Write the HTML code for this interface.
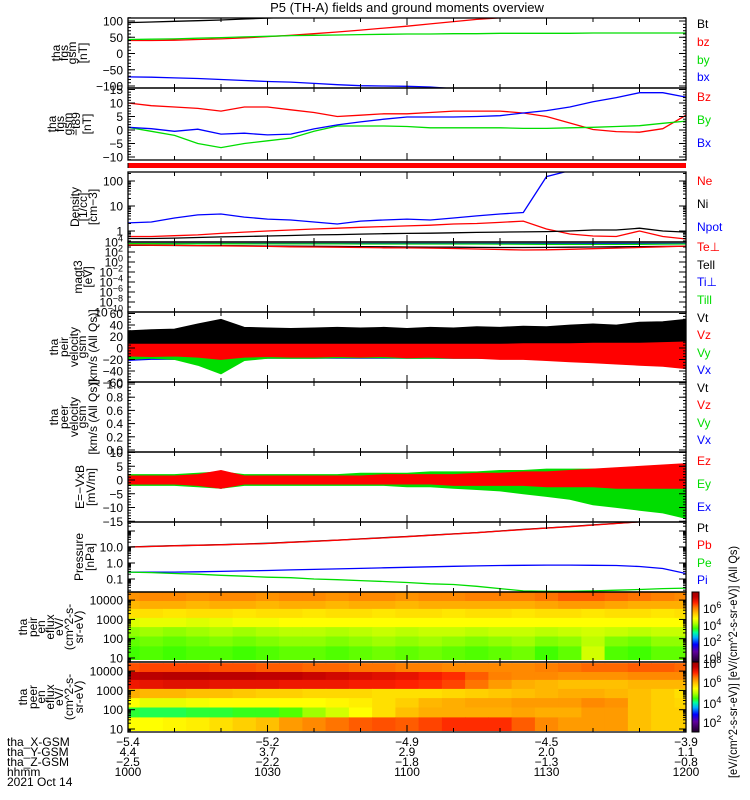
<!DOCTYPE html>
<html><head><meta charset="utf-8"><style>
html,body{margin:0;padding:0;background:#fff;}
svg{display:block;font-family:"Liberation Sans",sans-serif;}
text{font-size:12px;}
.lg{font-size:12px;}
.yl{font-size:11px;}
</style></head><body>
<svg id="chart" width="750" height="800" viewBox="0 0 750 800" xmlns="http://www.w3.org/2000/svg">
<rect x="0" y="0" width="750" height="800" fill="#fff"/>
<text x="407" y="12" text-anchor="middle" style="font-size:13px">P5 (TH-A) fields and ground moments overview</text>
<g id="plots"></g>
<g id="axes"></g>

<g class="yl">
<text transform="translate(60,53) rotate(-90)" text-anchor="middle">tha</text>
<text transform="translate(68,53) rotate(-90)" text-anchor="middle">fgs</text>
<text transform="translate(76,53) rotate(-90)" text-anchor="middle">gsm</text>
<text transform="translate(87,53) rotate(-90)" text-anchor="middle">[nT]</text>
<text transform="translate(56,124) rotate(-90)" text-anchor="middle">tha</text>
<text transform="translate(64,124) rotate(-90)" text-anchor="middle">fgs</text>
<text transform="translate(72,124) rotate(-90)" text-anchor="middle">gsm</text>
<text transform="translate(80,124) rotate(-90)" text-anchor="middle">−t89</text>
<text transform="translate(91,124) rotate(-90)" text-anchor="middle">[nT]</text>
<text transform="translate(79,207) rotate(-90)" text-anchor="middle">Density</text>
<text transform="translate(87,207) rotate(-90)" text-anchor="middle">[1/cc]</text>
<text transform="translate(97,207) rotate(-90)" text-anchor="middle">[cm−3]</text>
<text transform="translate(82,277) rotate(-90)" text-anchor="middle">magt3</text>
<text transform="translate(92,277) rotate(-90)" text-anchor="middle">[eV]</text>
<text transform="translate(58,347) rotate(-90)" text-anchor="middle">tha</text>
<text transform="translate(68,347) rotate(-90)" text-anchor="middle">peir</text>
<text transform="translate(78,347) rotate(-90)" text-anchor="middle">velocity</text>
<text transform="translate(86,347) rotate(-90)" text-anchor="middle">gsm</text>
<text transform="translate(97,347) rotate(-90)" text-anchor="middle">[km/s (All Qs)]</text>
<text transform="translate(58,417) rotate(-90)" text-anchor="middle">tha</text>
<text transform="translate(68,417) rotate(-90)" text-anchor="middle">peer</text>
<text transform="translate(78,417) rotate(-90)" text-anchor="middle">velocity</text>
<text transform="translate(86,417) rotate(-90)" text-anchor="middle">gsm</text>
<text transform="translate(97,417) rotate(-90)" text-anchor="middle">[km/s (All Qs)]</text>
<text transform="translate(84,487) rotate(-90)" text-anchor="middle">E=−VxB</text>
<text transform="translate(95,487) rotate(-90)" text-anchor="middle">[mV/m]</text>
<text transform="translate(83,557) rotate(-90)" text-anchor="middle">Pressure</text>
<text transform="translate(94,557) rotate(-90)" text-anchor="middle">[nPa]</text>
<text transform="translate(27,627) rotate(-90)" text-anchor="middle">tha</text>
<text transform="translate(37,627) rotate(-90)" text-anchor="middle">peir</text>
<text transform="translate(45,627) rotate(-90)" text-anchor="middle">en</text>
<text transform="translate(54,627) rotate(-90)" text-anchor="middle">eflux</text>
<text transform="translate(63,627) rotate(-90)" text-anchor="middle">eV/</text>
<text transform="translate(73,627) rotate(-90)" text-anchor="middle">(cm^2-s-</text>
<text transform="translate(83,627) rotate(-90)" text-anchor="middle">sr-eV)</text>
<text transform="translate(27,697) rotate(-90)" text-anchor="middle">tha</text>
<text transform="translate(37,697) rotate(-90)" text-anchor="middle">peer</text>
<text transform="translate(45,697) rotate(-90)" text-anchor="middle">en</text>
<text transform="translate(54,697) rotate(-90)" text-anchor="middle">eflux</text>
<text transform="translate(63,697) rotate(-90)" text-anchor="middle">eV/</text>
<text transform="translate(73,697) rotate(-90)" text-anchor="middle">(cm^2-s-</text>
<text transform="translate(83,697) rotate(-90)" text-anchor="middle">sr-eV)</text>
</g>

<g class="lg">
<text x="697" y="28" fill="#000">Bt</text>
<text x="697" y="46" fill="#f00">bz</text>
<text x="697" y="64" fill="#0d0">by</text>
<text x="697" y="81" fill="#00f">bx</text>
<text x="697" y="101" fill="#f00">Bz</text>
<text x="697" y="124" fill="#0d0">By</text>
<text x="697" y="147" fill="#00f">Bx</text>
<text x="697" y="185" fill="#f00">Ne</text>
<text x="697" y="208" fill="#000">Ni</text>
<text x="697" y="231" fill="#00f">Npot</text>
<text x="697" y="251" fill="#f00">Te⊥</text>
<text x="697" y="269" fill="#000">Tell</text>
<text x="697" y="286" fill="#00f">Ti⊥</text>
<text x="697" y="304" fill="#0d0">Till</text>
<text x="697" y="322" fill="#000">Vt</text>
<text x="697" y="339" fill="#f00">Vz</text>
<text x="697" y="357" fill="#0d0">Vy</text>
<text x="697" y="374" fill="#00f">Vx</text>
<text x="697" y="392" fill="#000">Vt</text>
<text x="697" y="409" fill="#f00">Vz</text>
<text x="697" y="427" fill="#0d0">Vy</text>
<text x="697" y="444" fill="#00f">Vx</text>
<text x="697" y="465" fill="#f00">Ez</text>
<text x="697" y="488" fill="#0d0">Ey</text>
<text x="697" y="511" fill="#00f">Ex</text>
<text x="697" y="532" fill="#000">Pt</text>
<text x="697" y="549" fill="#f00">Pb</text>
<text x="697" y="567" fill="#0d0">Pe</text>
<text x="697" y="584" fill="#00f">Pi</text>
<text transform="translate(737,662) rotate(-90)" text-anchor="middle" textLength="232" lengthAdjust="spacingAndGlyphs">[eV/(cm^2-s-sr-eV)]  [eV/(cm^2-s-sr-eV)]  (All Qs)</text>
</g>

<g>
<text x="7" y="746">tha_X-GSM</text>
<text x="7" y="756">tha_Y-GSM</text>
<text x="7" y="766">tha_Z-GSM</text>
<text x="7" y="776">hhmm</text>
<text x="7" y="786">2021 Oct 14</text>
<g id="xvals"></g>
</g>
</svg>
<script>
var times = [0,5,10,15,20,25,30,35,40,45,50,55,60,65,70,75,80,85,90,95,100,105,110,115,120];
var xTickMinutes = [0,30,60,90,120];
var xLabelX = ['-5.4','-5.2','-4.9','-4.5','-3.9'];
var xLabelY = ['4.4','3.7','2.9','2.0','1.1'];
var xLabelZ = ['-2.5','-2.2','-1.8','-1.3','-0.8'];
var xLabelHhmm = ['1000','1030','1100','1130','1200'];

var fgsBt = [95,97,99,101,103,106,109,112,115,118,121,124,127,130,133,136,139,142,145,148,151,154,157,160,163];
var fgsBz = [40,40,41,43,45,48,52,56,61,66,72,78,84,91,98,105,110,115,120,125,130,135,140,145,150];
var fgsBy = [43,44,45,47,49,51,53,55,56,57,58,59,60,60,61,61,62,62,62,62,63,63,63,63,63];
var fgsBx = [-72,-73,-75,-77,-80,-83,-86,-88,-92,-96,-99,-100,-101,-103,-108,-112,-115,-118,-120,-122,-124,-126,-128,-130,-132];

var t89Bz = [10,9,8.5,8,7,8.5,8.5,7.5,6.5,5,5.5,6,6,6.5,7,7,7,6.3,5,2.6,0.2,-0.6,-0.8,0.5,5.5];
var t89By = [1,-0.5,-2,-5,-6.5,-5,-4,-3,-0.5,1.5,1.5,1.5,1.3,0.8,0.8,0.8,0.8,0.6,0.6,0.8,1,1.3,1.6,2.5,3.3];
var t89Bx = [1,0.5,-0.5,0.3,-1.5,-1.2,-1.8,-1.5,0.4,1.9,3,4,4.8,4.8,4.8,5,5.3,6.3,7.2,8.5,10.5,12,13.8,13.8,12.2];

var denNpot = [2.1,2.3,3.3,4.4,4.8,3.6,3.0,2.75,2.3,1.9,2.5,2.75,3.0,2.75,3.3,4.0,4.8,5.5,150,260,null,null,null,null,null];
var denNe = [0.6,0.6,0.65,0.7,0.8,0.9,1.0,1.1,1.2,1.3,1.4,1.5,1.6,1.7,1.9,2.0,2.2,2.5,1.2,0.76,0.63,0.6,1.0,0.6,0.48];
var denNi = [0.5,0.5,0.52,0.55,0.58,0.6,0.63,0.66,0.7,0.72,0.75,0.78,0.8,0.82,0.85,0.88,0.9,0.92,0.95,1.0,1.1,1.1,1.3,1.0,0.9];

var tempTePerp = [2500,2300,2100,1900,1700,1500,1300,1100,1000,900,800,700,650,600,500,400,320,250,280,350,450,600,800,1100,1500];
var tempTePar = [2200,2100,2000,1900,1800,1700,1600,1500,1400,1300,1200,1100,1000,950,900,850,800,800,850,900,1000,1100,1200,1300,1400];
var tempTiPerp = [5000,5000,5000,5000,5000,5000,5000,5000,5000,5000,5000,5000,5000,5000,5000,5000,5000,5000,5000,5000,5000,5000,5000,5000,5000];
var tempTiPar = [4500,4500,4400,4400,4300,4300,4200,4200,4100,4100,4000,4000,4000,4000,4000,4000,3800,3600,3500,3400,3300,3300,3500,3800,4000];

var vtLo = [8,8,8,8,8,8,8,8,8,8,8,8,8,8,8,8,8,9,9,9,10,10,10,11,12];
var vtHi = [30,32,33,42,50,36,35,34,35,36,35,36,34,36,35,37,36,38,37,40,42,40,45,46,50];
var vzLo = [-14,-15,-14,-16,-20,-16,-15,-16,-16,-15,-16,-15,-17,-16,-18,-18,-20,-20,-22,-24,-26,-28,-30,-32,-36];
var vzHi = [8,8,9,10,14,10,9,10,9,10,9,10,10,11,11,12,12,12,12,13,14,13,14,14,15];
var vyLo = [-20,-18,-20,-30,-45,-22,-18,-18,-18,-17,-17,-17,-18,-18,-18,-18,-18,-18,-18,-18,-20,-20,-18,-16,-14];
var vyHi = [6,6,7,10,12,7,6,6,6,6,6,6,6,7,7,7,7,8,8,9,10,12,14,18,22];
var vxLo = [-22,-20,-20,-26,-34,-20,-18,-18,-18,-18,-18,-18,-18,-18,-18,-18,-18,-18,-18,-18,-18,-18,-18,-16,-14];
var vxHi = [5,5,6,8,10,6,5,5,5,5,5,5,5,6,6,6,6,6,7,7,8,9,10,12,18];

var exLo = [-1.5,-1.5,-1.5,-2,-3,-1.5,-1.5,-1.5,-1.5,-1.5,-1.5,-1.5,-1.5,-1.5,-2,-2,-2.5,-3,-3,-3,-3.5,-4,-4,-4,-4];
var exHi = [1.5,1.5,1.5,2,3,1.5,1.5,1.5,1.5,1.5,1.5,1.5,2,2,2,2,2.5,2.5,3,3,3.5,4,4,4.5,5];
var eyLo = [-2,-2,-2,-2.5,-3,-2,-2,-2,-2,-2,-2,-2,-2.5,-2.5,-3,-3.5,-4,-5,-6,-7,-9,-10,-11,-12,-14];
var eyHi = [2,2,2,2.5,3,2,2,2,2,2,2.5,2.5,2.5,3,3,3,3.5,3.5,4,4,4,4,4,4,4];
var ezLo = [-1.5,-1.5,-1.5,-2,-3,-1.5,-1.5,-1.5,-1.5,-1.5,-1.5,-1.5,-1.5,-1.5,-2,-2,-2,-2,-2.5,-2.5,-2.5,-3,-3,-3,-3];
var ezHi = [1.5,1.5,1.5,2,3.5,1.5,1.5,1.5,1.5,1.5,1.5,2,2,2,2,2.5,2.5,3,3,3.5,4,4.5,5,5.5,6];

var presPt = [10,11,12,13,14,15.5,17,20,23,27,32,38,45,55,66,80,100,125,155,190,240,300,380,480,600];
var presPb = [9.8,10.8,11.8,12.7,13.7,15.2,16.6,19.6,22.5,26.5,31.4,37.2,44,54,65,78,98,122,152,186,235,294,372,470,588];
var presPe = [0.27,0.25,0.22,0.2,0.17,0.15,0.13,0.12,0.1,0.09,0.08,0.07,0.06,0.05,0.045,0.035,0.025,0.018,0.017,0.017,0.018,0.02,0.022,0.025,0.027];
var presPi = [0.27,0.27,0.27,0.28,0.3,0.32,0.34,0.37,0.4,0.43,0.46,0.5,0.54,0.58,0.62,0.66,0.7,0.72,0.74,0.74,0.72,0.7,0.6,0.45,0.22];

var energyEdges = [26000,9000,3500,1200,400,130,40,8.5];
var peirFlux = [
 [75,76,76,75,76,76,75,76,76,75,76,76,75,76,76,77,77,77,78,80,80,79,78,77,76],
 [71,72,72,71,72,72,71,72,72,71,72,72,71,72,72,72,72,72,73,74,74,73,72,72,72],
 [66,66,65,66,66,65,66,66,65,66,66,65,66,66,65,66,66,65,66,66,65,66,66,65,66],
 [59,60,60,59,60,61,61,62,62,62,62,62,62,62,62,62,62,62,62,62,62,62,62,62,62],
 [53,54,53,54,55,54,55,56,56,55,56,57,56,57,57,56,57,57,56,57,58,57,56,57,57],
 [50,51,50,51,52,51,52,53,53,52,53,54,53,54,53,52,53,54,52,53,56,52,51,53,53],
 [48,49,48,49,49,48,49,50,50,49,50,51,50,51,50,49,50,51,48,50,58,49,48,50,50]];
var peerFlux = [
 [81,82,82,82,81,81,80,80,79,79,78,78,77,77,76,76,76,76,77,78,79,79,80,80,79],
 [93,94,95,95,94,94,93,93,92,91,90,89,88,86,84,80,77,76,76,75,75,75,76,76,76],
 [87,88,89,89,88,88,88,87,87,87,86,86,85,84,82,78,74,72,71,70,70,70,71,71,71],
 [72,71,71,70,70,69,68,68,67,67,67,66,66,66,67,68,69,70,71,72,72,71,70,68,66],
 [62,60,60,61,62,62,62,62,62,63,64,66,68,71,72,73,73,74,74,74,76,75,70,68,67],
 [46,45,45,46,46,47,47,49,54,58,62,66,70,72,72,72,72,73,72,72,74,74,70,68,68],
 [62,62,63,64,66,68,70,74,76,78,80,81,80,82,84,84,84,80,76,74,74,74,70,68,68]];

var cbStops = [0,15,25,35,42,48,55,62,70,77,85,93,100];
var cbColors = ['#200028','#6000a0','#0000ff','#00b0ff','#00ffa0','#40ff00','#b0ff00','#ffff00','#ffc000','#ff8000','#ff2000','#c00000','#a00000'];

var NS = 'http://www.w3.org/2000/svg';
var X0 = 128, X1 = 686;
function xs(t){ return X0 + (t/120)*(X1-X0); }
function mk(tag, parent){ var e = document.createElementNS(NS, tag); parent.appendChild(e); return e; }
var plots = document.getElementById('plots');
var axes = document.getElementById('axes');
var defs = mk('defs', document.getElementById('chart'));

var panels = [
 {id:'fgs', top:18, bot:88, y:function(v){return 53.5 - v*0.325;}},
 {id:'t89', top:88, bot:160, y:function(v){return 130 - v*2.7;}},
 {id:'density', top:172, bot:242, y:function(v){return 231 - 25*Math.log10(v);}},
 {id:'magt3', top:242, bot:312, y:function(v){return 262 - 5*Math.log10(v);}},
 {id:'peir', top:312, bot:382, y:function(v){return 348 - 0.575*v;}},
 {id:'peer', top:382, bot:452, y:function(v){return 450 - 66*v;}},
 {id:'efield', top:452, bot:522, y:function(v){return 480 - 2.75*v;}},
 {id:'pressure', top:522, bot:592, y:function(v){return 563 - 16*Math.log10(v);}},
 {id:'peirflux', top:592, bot:662, y:function(v){return 658 - 19.3*(Math.log10(v)-1);}},
 {id:'peerflux', top:662, bot:732, y:function(v){return 729 - 19.3*(Math.log10(v)-1);}}
];
var P = {};
panels.forEach(function(p){
  P[p.id] = p;
  var cp = mk('clipPath', defs); cp.setAttribute('id','clip-'+p.id);
  var r = mk('rect', cp); r.setAttribute('x',X0); r.setAttribute('y',p.top); r.setAttribute('width',X1-X0); r.setAttribute('height',p.bot-p.top);
  var g = mk('g', plots); g.setAttribute('clip-path','url(#clip-'+p.id+')');
  
  
  p.g = g;
});

function line(p, vals, color, name){
  var d = '', pen = false;
  for (var i=0;i<times.length;i++){
    var v = vals[i];
    if (v === null){ pen = false; continue; }
    d += (pen?'L':'M') + xs(times[i]).toFixed(1) + ' ' + p.y(v).toFixed(1);
    pen = true;
  }
  var e = mk('path', p.g); e.setAttribute('d', d); e.setAttribute('fill','none'); e.setAttribute('stroke',color); e.setAttribute('stroke-width','1.3');
  
  
}
function band(p, lo, hi, color, name){
  var d = '';
  for (var i=0;i<times.length;i++) d += (i?'L':'M') + xs(times[i]).toFixed(1)+' '+p.y(hi[i]).toFixed(1);
  for (var j=times.length-1;j>=0;j--) d += 'L' + xs(times[j]).toFixed(1)+' '+p.y(lo[j]).toFixed(1);
  var e = mk('path', p.g); e.setAttribute('d', d+'Z'); e.setAttribute('fill',color); e.setAttribute('stroke',color); e.setAttribute('stroke-width','0.8');
  
  
}
function cmap(v){
  for (var i=1;i<cbStops.length;i++){
    if (v <= cbStops[i]){
      var f = (v-cbStops[i-1])/(cbStops[i]-cbStops[i-1]);
      var a = cbColors[i-1], b = cbColors[i];
      var c = [1,3,5].map(function(k){ var x=parseInt(a.substr(k,2),16), y=parseInt(b.substr(k,2),16); return Math.round(x+(y-x)*f); });
      return 'rgb('+c.join(',')+')';
    }
  }
  return cbColors[cbColors.length-1];
}
function spectro(p, grid, name){
  var dt = 5;
  for (var r=0;r<grid.length;r++){
    for (var c=0;c<times.length;c++){
      var x0 = xs(times[c]-dt/2), x1 = xs(times[c]+dt/2);
      var y0 = p.y(energyEdges[r]), y1 = p.y(energyEdges[r+1]);
      var e = mk('rect', p.g);
      e.setAttribute('x', x0.toFixed(1)); e.setAttribute('y', y0.toFixed(1));
      e.setAttribute('width', (x1-x0+0.6).toFixed(1)); e.setAttribute('height', (y1-y0+0.6).toFixed(1));
      e.setAttribute('fill', cmap(grid[r][c]));
      
      
    }
  }
}

line(P.fgs, fgsBt, '#000', 'bt-line');
line(P.fgs, fgsBz, '#f00', 'bz-line');
line(P.fgs, fgsBy, '#0d0', 'by-line');
line(P.fgs, fgsBx, '#00f', 'bx-line');
line(P.t89, t89Bz, '#f00', 't89-bz-line');
line(P.t89, t89By, '#0d0', 't89-by-line');
line(P.t89, t89Bx, '#00f', 't89-bx-line');
var rb = mk('rect', plots); rb.setAttribute('x',X0); rb.setAttribute('y',163); rb.setAttribute('width',X1-X0); rb.setAttribute('height',5); rb.setAttribute('fill','#f00');


line(P.density, denNpot, '#00f', 'npot-line');
line(P.density, denNe, '#f00', 'ne-line');
line(P.density, denNi, '#000', 'ni-line');
line(P.magt3, tempTiPerp, '#00f', 'ti-perp-line');
line(P.magt3, tempTiPar, '#0d0', 'ti-par-line');
line(P.magt3, tempTePar, '#000', 'te-par-line');
line(P.magt3, tempTePerp, '#f00', 'te-perp-line');
band(P.peir, vxLo, vxHi, '#00f', 'peir-vx-band');
band(P.peir, vyLo, vyHi, '#0d0', 'peir-vy-band');
band(P.peir, vzLo, vzHi, '#f00', 'peir-vz-band');
band(P.peir, vtLo, vtHi, '#000', 'peir-vt-band');
band(P.efield, exLo, exHi, '#00f', 'ex-band');
band(P.efield, eyLo, eyHi, '#0d0', 'ey-band');
band(P.efield, ezLo, ezHi, '#f00', 'ez-band');
line(P.pressure, presPt, '#000', 'pt-line');
line(P.pressure, presPb, '#f00', 'pb-line');
line(P.pressure, presPi, '#00f', 'pi-line');
line(P.pressure, presPe, '#0d0', 'pe-line');
spectro(P.peirflux, peirFlux, 'peir-spectrogram');
spectro(P.peerflux, peerFlux, 'peer-spectrogram');

var linTicks = {
 fgs:{major:[100,50,0,-50,-100], labels:['100','50','0','−50','−100'], step:10},
 t89:{major:[15,10,5,0,-5,-10], labels:['15','10','5','0','−5','−10'], step:1},
 peir:{major:[60,40,20,0,-20,-40,-60], labels:['60','40','20','0','−20','−40','−60'], step:5},
 peer:{major:[1,0.8,0.6,0.4,0.2,0], labels:['1.0','0.8','0.6','0.4','0.2','0.0'], step:0.05},
 efield:{major:[10,5,0,-5,-10,-15], labels:['10','5','0','−5','−10','−15'], step:1}
};
var logTicks = {
 density:{major:[100,10,1], labels:['100','10','1']},
 pressure:{major:[10,1,0.1], labels:['10.0','1.0','0.1']},
 peirflux:{major:[10000,1000,100,10], labels:['10000','1000','100','10']},
 peerflux:{major:[10000,1000,100,10], labels:['10000','1000','100','10']}
};
var magtExp = [4,2,0,-2,-4,-6,-8,-10];

function seg(x1,y1,x2,y2,name){
  var e = mk('line', axes); e.setAttribute('x1',x1); e.setAttribute('y1',y1); e.setAttribute('x2',x2); e.setAttribute('y2',y2); e.setAttribute('stroke','#000'); e.setAttribute('stroke-width','1');
  
  
}
function ytick(p, y, len, name){
  if (y < p.top-0.5 || y > p.bot+0.5) return;
  seg(X0, y, X0+len, y, name);
  seg(X1-len, y, X1, y, name);
}
function ylabel(y, txt, name){
  var e = mk('text', axes); e.setAttribute('x', 123); e.setAttribute('y', y+4.5); e.setAttribute('text-anchor','end');
  e.textContent = txt;
  
  
}
panels.forEach(function(p){
  var f = mk('rect', axes); f.setAttribute('x',X0); f.setAttribute('y',p.top); f.setAttribute('width',X1-X0); f.setAttribute('height',p.bot-p.top); f.setAttribute('fill','none'); f.setAttribute('stroke','#000'); f.setAttribute('stroke-width','1.3');
  
  
  for (var t=0;t<=120;t+=10){
    var L = (t%30===0)?7:4;
    seg(xs(t), p.bot, xs(t), p.bot-L, 'x-tick');
    seg(xs(t), p.top, xs(t), p.top+L, 'x-tick');
  }
  var lt = linTicks[p.id], gt = logTicks[p.id];
  if (lt){
    var lo = lt.major[lt.major.length-1]-5*lt.step, hi = lt.major[0]+5*lt.step;
    for (var v=lo; v<=hi+1e-9; v+=lt.step) ytick(p, p.y(v), 3, 'y-minor-tick');
    lt.major.forEach(function(v,i){ ytick(p, p.y(v), 7, 'y-major-tick'); ylabel(p.y(v), lt.labels[i], p.id+'-y-tick-label'); });
  }
  if (gt){
    for (var e=-3;e<=5;e++) for (var m=1;m<10;m++) ytick(p, p.y(m*Math.pow(10,e)), m===1?7:3, 'y-tick');
    gt.major.forEach(function(v,i){ ylabel(p.y(v), gt.labels[i], p.id+'-y-tick-label'); });
  }
  if (p.id==='magt3'){
    magtExp.forEach(function(ex){
      var y = p.y(Math.pow(10,ex));
      ytick(p, y, 7, 'y-major-tick');
      ytick(p, y-5, 3, 'y-minor-tick');
      var t = mk('text', axes); t.setAttribute('x', 123); t.setAttribute('y', y+4.5); t.setAttribute('text-anchor','end');
      
      
      var a = mk('tspan', t); a.textContent = '10';
      var b = mk('tspan', t); b.setAttribute('dy','-5'); b.setAttribute('style','font-size:9px'); b.textContent = ex<0?('−'+(-ex)):String(ex);
    });
  }
});
seg(X0, 163, X0, 168, 'red-bar-edge');

var cbExpTop = [6,4,2,0], cbExpBot = [8,6,4,2];
[['peirflux',cbExpTop,[608,625,641,658]],['peerflux',cbExpBot,[663,682,703,722]]].forEach(function(cfg){
  var p = P[cfg[0]];
  var gid = 'grad-'+cfg[0];
  var lg = mk('linearGradient', defs); lg.setAttribute('id',gid); lg.setAttribute('x1','0'); lg.setAttribute('y1','1'); lg.setAttribute('x2','0'); lg.setAttribute('y2','0');
  cbStops.forEach(function(s,i){ var st = mk('stop', lg); st.setAttribute('offset', s+'%'); st.setAttribute('stop-color', cbColors[i]); });
  var r = mk('rect', axes); r.setAttribute('x',692); r.setAttribute('y',p.top); r.setAttribute('width',7); r.setAttribute('height',p.bot-p.top); r.setAttribute('fill','url(#'+gid+')'); r.setAttribute('stroke','#000'); r.setAttribute('stroke-width','1');
  
  
  cfg[1].forEach(function(ex,i){
    var t = mk('text', axes); t.setAttribute('x', 703); t.setAttribute('y', cfg[2][i]+5);
    
    
    var a = mk('tspan', t); a.textContent = '10';
    var b = mk('tspan', t); b.setAttribute('dy','-5'); b.setAttribute('style','font-size:9px'); b.textContent = String(ex);
  });
});

var xv = document.getElementById('xvals');
[xLabelX, xLabelY, xLabelZ, xLabelHhmm].forEach(function(arr, row){
  xTickMinutes.forEach(function(t,i){
    var e = mk('text', xv); e.setAttribute('x', xs(t)); e.setAttribute('y', 746+row*10); e.setAttribute('text-anchor','middle');
    e.textContent = arr[i].replace('-','−');
    
    
  });
});
</script>
</body></html>
